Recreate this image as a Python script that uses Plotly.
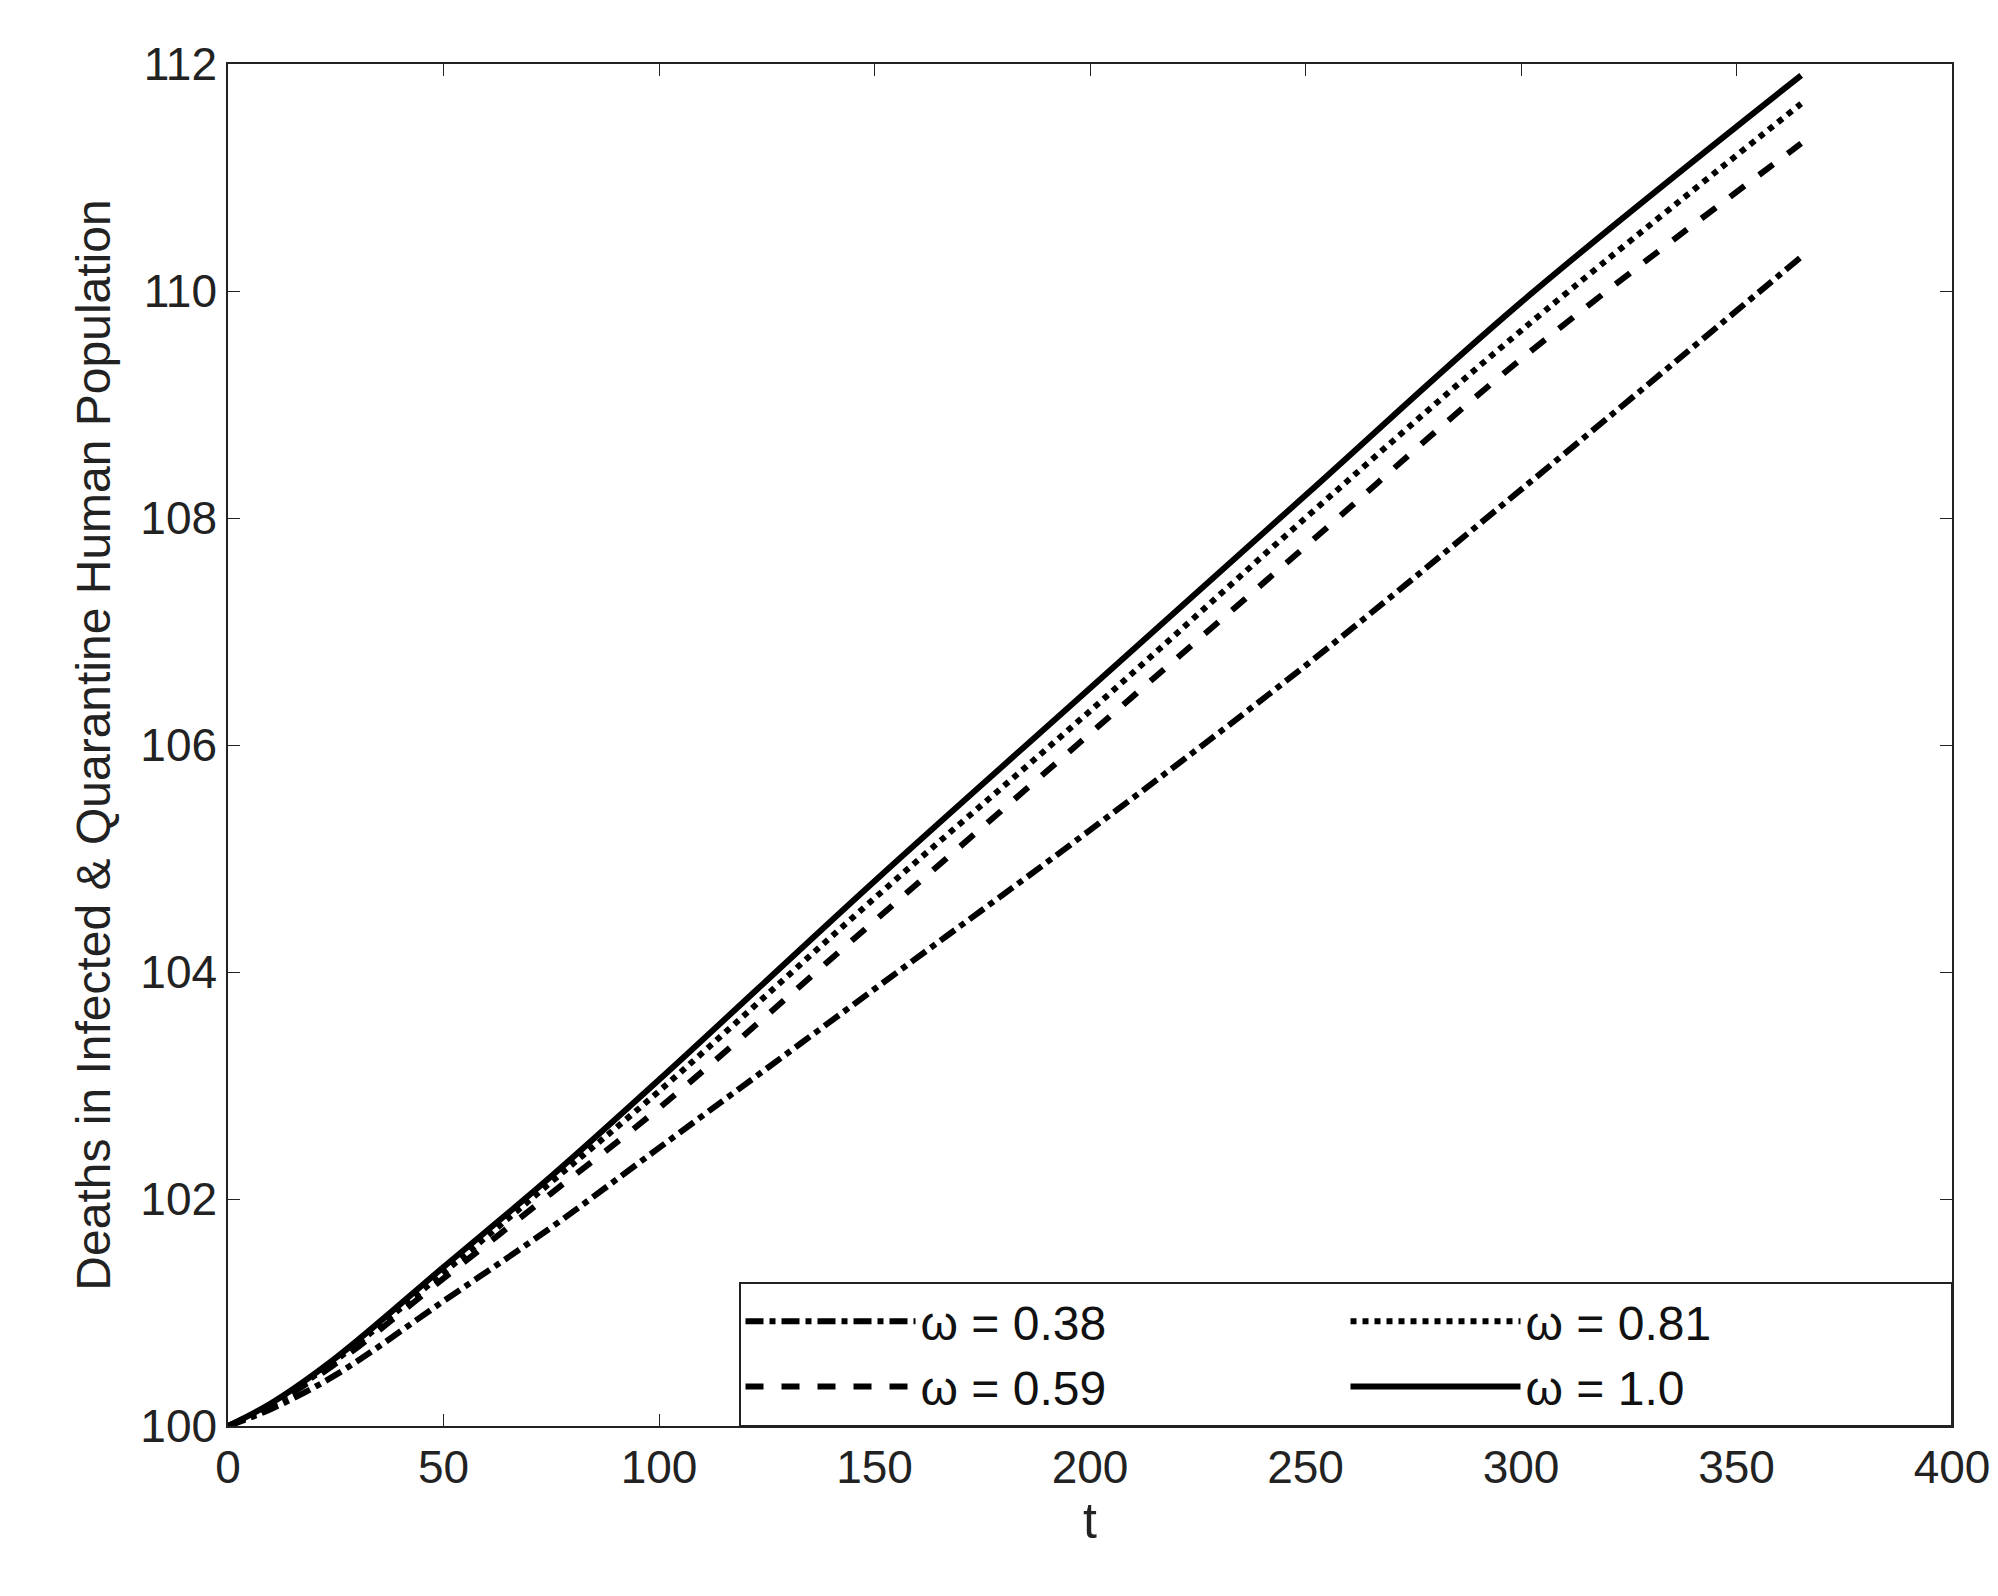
import plotly.graph_objects as go

t = [0, 10, 25, 50, 75, 100, 150, 200, 250, 300, 365]
w038 = [100, 100.15, 100.45, 101.1, 101.75, 102.45, 103.85, 105.25, 106.7, 108.25, 110.3]
w059 = [100, 100.18, 100.55, 101.3, 102.05, 102.8, 104.45, 106.1, 107.75, 109.4, 111.3]
w081 = [100, 100.19, 100.58, 101.35, 102.15, 102.95, 104.65, 106.3, 108.0, 109.65, 111.65]
w100 = [100, 100.2, 100.6, 101.4, 102.2, 103.05, 104.8, 106.5, 108.2, 109.9, 111.9]

series = [
    ("\u03c9 = 0.38", w038, "dashdot"),
    ("\u03c9 = 0.81", w081, "dot"),
    ("\u03c9 = 0.59", w059, "dash"),
    ("\u03c9 = 1.0", w100, "solid"),
]

fig = go.Figure()
for name, y, dash in series:
    fig.add_trace(go.Scatter(x=t, y=y, mode="lines", name=name, line_shape="spline",
                             line=dict(color="black", width=6, dash=dash)))

ax = dict(showgrid=False, zeroline=False, showline=True, mirror="ticks", linecolor="#222",
          linewidth=1.5, ticks="inside", ticklen=12, tickcolor="#222",
          tickfont=dict(size=46, color="#222"))
fig.update_xaxes(**ax, range=[0, 400], dtick=50,
                 title=dict(text="t", font=dict(size=50, color="#222"), standoff=10))
fig.update_yaxes(**ax, range=[100, 112], dtick=2,
                 title=dict(text="Deaths in Infected & Quarantine Human Population",
                            font=dict(size=48, color="#222"), standoff=14))
fig.update_layout(
    width=1998, height=1596, plot_bgcolor="white", paper_bgcolor="white",
    font=dict(family="Liberation Sans, Arial, sans-serif"),
    margin=dict(l=220, r=54, t=56, b=178),
    legend=dict(orientation="h", x=1.0, y=0.0, xanchor="right", yanchor="bottom",
                bgcolor="white", bordercolor="#222", borderwidth=1.5,
                font=dict(size=48, color="#111"), entrywidth=420, entrywidthmode="pixels",
                itemwidth=170, tracegroupgap=0),
)
fig.write_html("out.html")
